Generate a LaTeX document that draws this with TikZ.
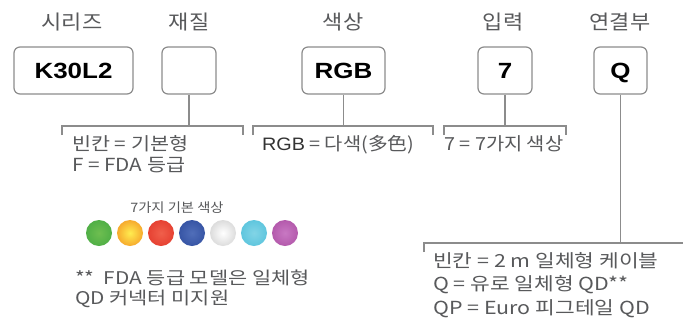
\documentclass[tikz,border=0pt]{standalone}
\usepackage{fontspec}
\usepackage{graphicx}
\setmainfont{Liberation Sans}
\newfontfamily\kr{Noto Sans CJK KR}
\newfontfamily\lat{Liberation Sans}
\definecolor{txt}{HTML}{58595B}
\definecolor{dark}{HTML}{333333}
\definecolor{ln}{HTML}{8C8C8C}
\newcommand{\sx}[1]{\scalebox{1.1}[1]{#1}}
\newcommand{\sxl}[1]{\scalebox{1.15}[1]{#1}}
\newcommand{\sxr}[1]{\scalebox{1.19}[1]{#1}}
\newcommand{\sxb}[1]{\scalebox{1.18}[1]{#1}}
\begin{document}
\begin{tikzpicture}[x=1pt,y=-1pt,
  hdr/.style={font=\kr\fontsize{20}{24}\selectfont, text=txt, anchor=base, inner sep=0pt},
  body/.style={font=\kr\fontsize{18}{22}\selectfont, text=txt, anchor=base west, inner sep=0pt},
  foot/.style={font=\kr\fontsize{17.5}{20}\selectfont, text=txt, anchor=base west, inner sep=0pt},
  small/.style={font=\kr\fontsize{13}{16}\selectfont, text=txt, anchor=base, inner sep=0pt},
  codebox/.style={draw=ln, line width=1.2pt, rounded corners=6pt, fill=white,
    minimum height=47pt, inner sep=0pt, text=black,
    font=\lat\bfseries\fontsize{22}{26}\selectfont, text height=15.8pt, text depth=0pt},
  conn/.style={draw=ln, line width=1.4pt},
  dot/.style={circle, minimum size=26pt, inner sep=0pt}
]
\useasboundingbox (0,0) rectangle (683,333);
\fill[white] (0,0) rectangle (683,333);

% headers
\node[hdr] (h1) at (72,29.5) {\sx{시리즈}};
\node[hdr] (h2) at (189,29.5) {\sx{재질}};
\node[hdr] (h3) at (343,29.5) {\sx{색상}};
\node[hdr] (h4) at (503,29.5) {\sx{입력}};
\node[hdr] (h5) at (620,29.5) {\sx{연결부}};

% boxes
\node[codebox, minimum width=119pt] (b1) at (73.5,70.5) {\sxb{K30L2}};
\node[codebox, minimum width=54pt] (b2) at (189,70.5) {};
\node[codebox, minimum width=83pt] (b3) at (343.5,70.5) {\sxb{RGB}};
\node[codebox, minimum width=54pt] (b4) at (505,70.5) {\sxb{7}};
\node[codebox, minimum width=53pt] (b5) at (620.5,70.5) {\sxb{Q}};

% connectors and brackets
\coordinate (j2) at (189,126);
\coordinate (l2a) at (62,135);
\coordinate (l2b) at (243,135);
\draw[conn] (b2.south) -- (j2);
\draw[conn] (l2a) |- (j2) -| (l2b);

\coordinate (j3) at (343.5,126);
\coordinate (l3a) at (253,135);
\coordinate (l3b) at (433,135);
\draw[conn] (b3.south) -- (j3);
\draw[conn] (l3a) |- (j3) -| (l3b);

\coordinate (j4) at (505,126);
\coordinate (l4a) at (444,135);
\coordinate (l4b) at (566,135);
\draw[conn] (b4.south) -- (j4);
\draw[conn] (l4a) |- (j4) -| (l4b);

\coordinate (j5) at (620.5,243);
\coordinate (l5a) at (424,252);
\coordinate (l5b) at (690,243);
\draw[conn] (b5.south) -- (j5);
\draw[conn] (l5a) |- (j5) -- (l5b);

% option texts
\node[body] (t2a) at (72,150) {\sxl{빈칸 = 기본형}};
\node[body] (t2b) at (72,171) {\sxl{F = FDA 등급}};
\node[body] (t3a) at (262,150) {\sx{{\lat\color{dark}RGB} = 다색(多色)}};
\node[body] (t4a) at (444,150) {\sx{7 = 7가지 색상}};
\node[body] (t5a) at (433,267) {\sxr{빈칸 = 2 m 일체형 케이블}};
\node[body] (t5b) at (433,290.5) {\sxr{Q = 유로 일체형 QD**}};
\node[body] (t5c) at (433,314) {\sxr{QP = Euro 피그테일 QD}};

% color dots
\node[small] (cl) at (177,212) {\sx{7가지 기본 색상}};
\node[dot, inner color={rgb,255:red,110;green,190;blue,80}, outer color={rgb,255:red,80;green,175;blue,70}] (c1) at (99,233) {};
\node[dot, inner color={rgb,255:red,255;green,236;blue,80}, outer color={rgb,255:red,246;green,170;blue,45}] (c2) at (130,233) {};
\node[dot, inner color={rgb,255:red,240;green,95;blue,75}, outer color={rgb,255:red,230;green,65;blue,50}] (c3) at (161,233) {};
\node[dot, inner color={rgb,255:red,80;green,110;blue,185}, outer color={rgb,255:red,55;green,85;blue,165}] (c4) at (192,233) {};
\node[dot, inner color=white, outer color={rgb,255:red,220;green,220;blue,220}] (c5) at (223,233) {};
\node[dot, inner color={rgb,255:red,130;green,212;blue,230}, outer color={rgb,255:red,95;green,198;blue,222}] (c6) at (254,233) {};
\node[dot, inner color={rgb,255:red,200;green,120;blue,195}, outer color={rgb,255:red,180;green,90;blue,172}] (c7) at (285,233) {};

% footnote
\node[foot] (f1) at (75,284) {\sxr{**\ \ FDA 등급 모델은 일체형}};
\node[foot] (f2) at (75,304) {\sxr{QD 커넥터 미지원}};
\end{tikzpicture}
\end{document}
